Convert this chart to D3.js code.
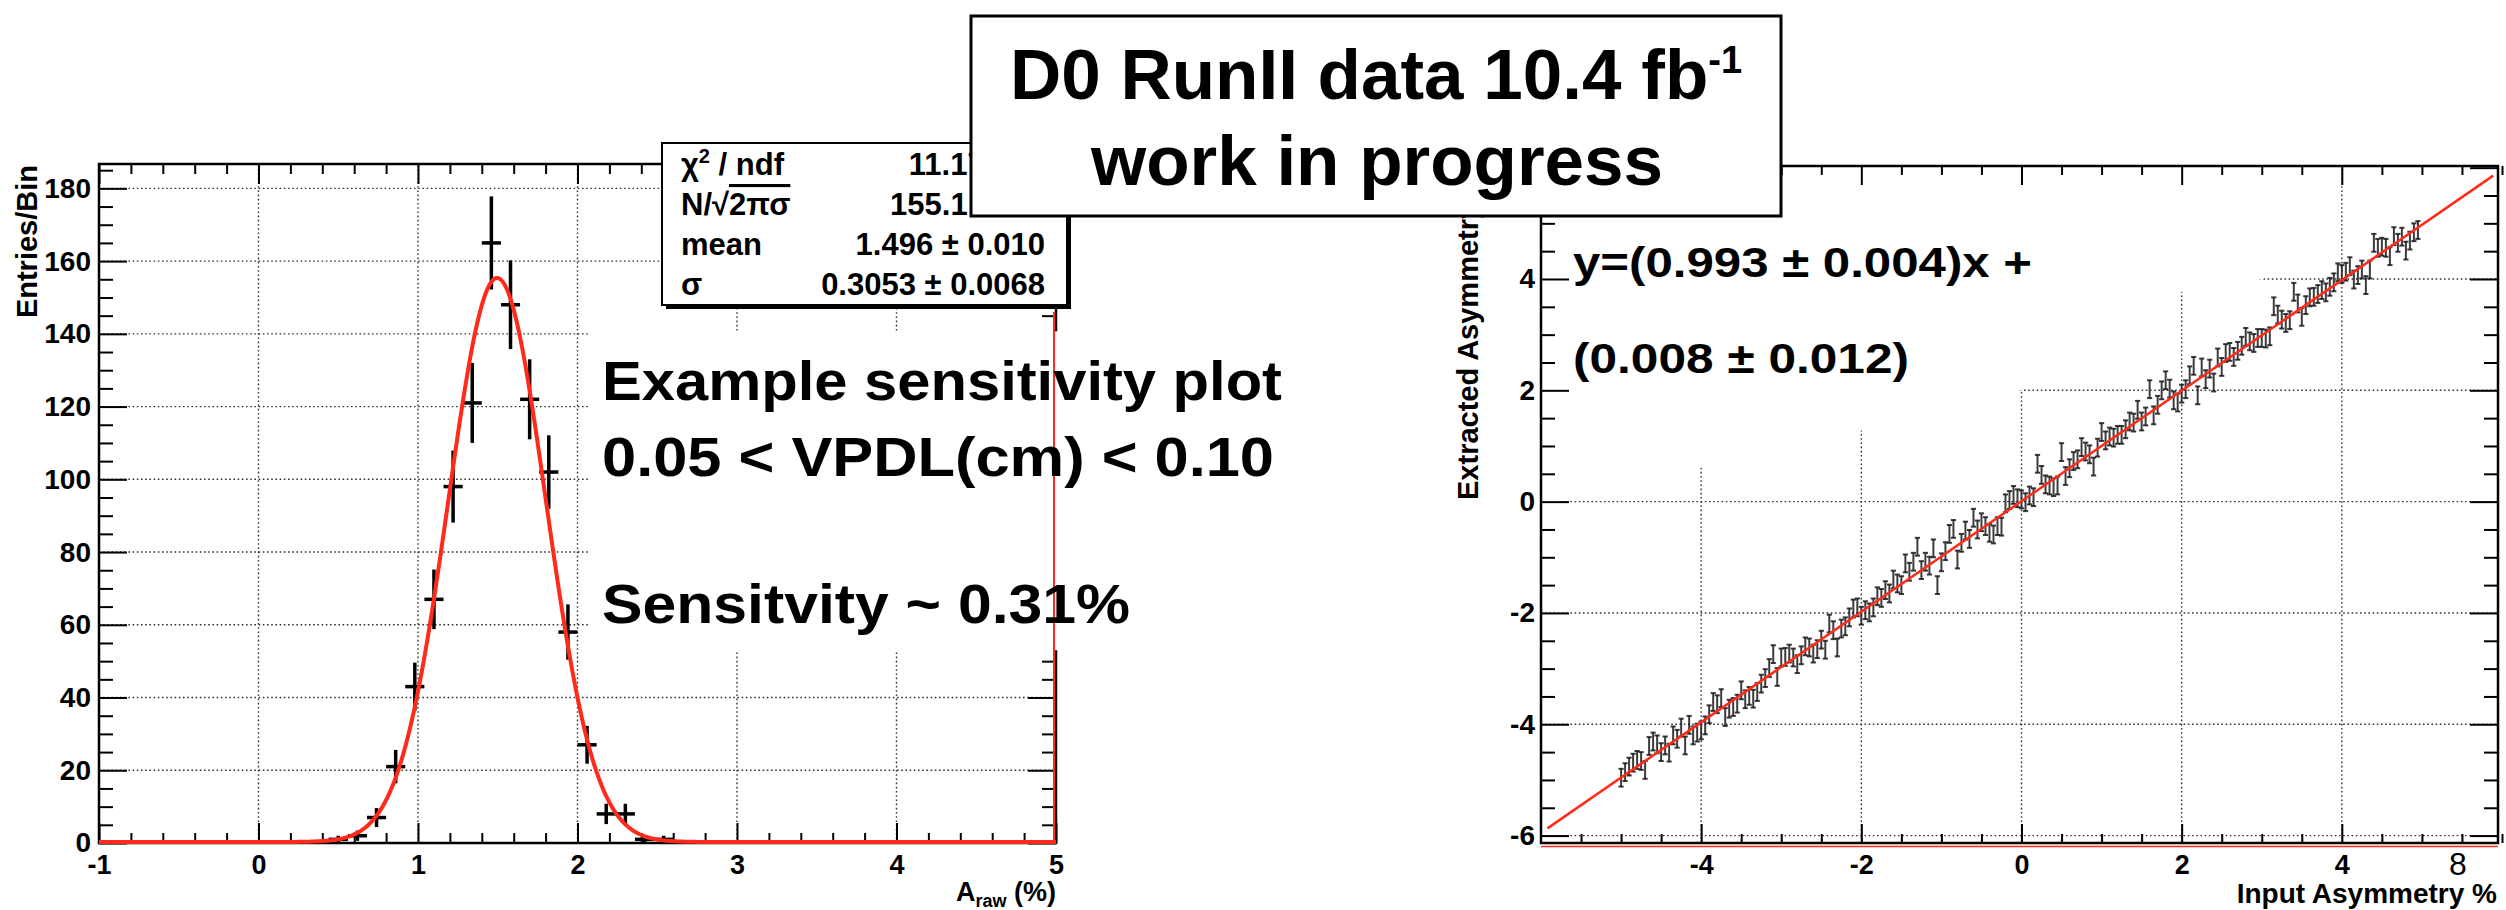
<!DOCTYPE html>
<head>
  <meta charset="utf-8">
  <script src="https://unpkg.com/d3@7/dist/d3.min.js"></script>
  <style>
    body { margin:0; background:#fff; }
    svg { font-family: "Liberation Sans", Arial, Helvetica, sans-serif; font-weight: bold; }
  </style>
</head>

<body>
  <svg width="2506" height="910"></svg>
  <script>
    // ---- left panel: raw asymmetry histogram with gaussian fit ----
    var binCenters = [0.50, 0.62, 0.74, 0.86, 0.98, 1.10, 1.22, 1.34, 1.46, 1.58, 1.70, 1.82, 1.94, 2.06, 2.18, 2.30, 2.42, 2.54];
    var binCounts  = [1, 2, 7, 21, 43, 67, 98, 121, 165, 148, 122, 102, 58, 27, 8, 8, 1, 1];
    var binErrors  = [1, 1.4, 2.6, 4.6, 6.6, 8.2, 9.9, 11, 12.8, 12.2, 11, 10.1, 7.6, 5.2, 2.8, 2.8, 1, 1];
    var binWidth = 0.12;
    var gausNorm = 155.1, gausMean = 1.496, gausSigma = 0.3053;
    var statValues = ["11.17 / 14", "155.1 \u00b1 4.1", "1.496 \u00b1 0.010", "0.3053 \u00b1 0.0068"];
    var leftXTicks = [-1, 0, 1, 2, 3, 4, 5];
    var leftYTicks = [0, 20, 40, 60, 80, 100, 120, 140, 160, 180];

    // ---- right panel: extracted vs input asymmetry ----
    var inputStart = -5, inputStep = 0.05;
    var extracted = [
      -4.96, -4.86, -4.76, -4.69, -4.64, -4.66, -4.82, -4.39, -4.31, -4.36,
      -4.50, -4.38, -4.51, -4.20, -4.26, -4.06, -4.38, -4.01, -4.20, -4.15,
      -4.11, -4.02, -3.82, -3.60, -3.64, -3.53, -3.87, -3.72, -3.69, -3.63,
      -3.39, -3.55, -3.49, -3.54, -3.42, -3.27, -3.17, -2.99, -2.74, -3.15,
      -2.80, -2.79, -2.73, -2.80, -2.92, -2.76, -2.60, -2.62, -2.73, -2.65,
      -2.48, -2.66, -2.19, -2.31, -2.62, -2.28, -2.24, -2.08, -1.92, -1.90,
      -2.05, -1.95, -1.99, -1.90, -1.70, -1.73, -1.59, -1.65, -1.40, -1.47,
      -1.50, -1.11, -1.26, -1.08, -0.81, -1.23, -1.08, -1.15, -0.84, -1.50,
      -1.09, -0.89, -0.58, -0.49, -1.04, -0.74, -0.52, -0.67, -0.29, -0.50,
      -0.37, -0.44, -0.56, -0.59, -0.44, -0.45, -0.03, 0.03, 0.12, 0.06,
      0.04, -0.01, 0.11, 0.08, 0.68, 0.48, 0.31, 0.29, 0.26, 0.29,
      0.89, 0.46, 0.60, 0.73, 0.76, 0.98, 0.90, 0.85, 0.63, 0.97,
      1.25, 1.10, 1.17, 1.15, 1.20, 1.20, 1.30, 1.44, 1.42, 1.65,
      1.44, 1.53, 2.02, 1.55, 1.74, 2.00, 2.18, 2.03, 1.82, 1.78,
      1.94, 2.02, 2.27, 2.44, 1.91, 2.41, 2.20, 2.39, 2.14, 2.59,
      2.42, 2.67, 2.69, 2.60, 2.71, 2.80, 2.96, 2.88, 2.85, 2.94,
      2.94, 2.93, 2.97, 3.51, 3.36, 3.27, 3.21, 3.26, 3.77, 3.56,
      3.32, 3.53, 3.67, 3.68, 3.73, 3.80, 3.76, 3.86, 3.94, 4.12,
      4.09, 4.13, 4.23, 3.99, 4.07, 4.17, 3.89, 4.17, 4.65, 4.56,
      4.58, 4.56, 4.41, 4.77, 4.65, 4.76, 4.51, 4.69, 4.84, 4.88
    ];
    var extractedErr = 0.16;
    var fitSlope = 0.993, fitOffset = 0.008, fitRange = [-5.92, 5.89];
    var rightXTicks = [-4, -2, 0, 2, 4];
    var rightYTicks = [-6, -4, -2, 0, 2, 4, 6];

    var red = "#ff2a1a";
    var svg = d3.select("svg");

    var x1 = d3.scaleLinear().domain([-1, 5]).range([99, 1056]);
    var y1 = d3.scaleLinear().domain([0, 186.7]).range([843, 164]);
    var x2 = d3.scaleLinear().domain([-6, 5.95]).range([1541, 2498]);
    var y2 = d3.scaleLinear().domain([-6.133, 6.03]).range([843, 166]);

    function grid(xs, ys, xv, yv) {
      var g = svg.append("g")
        .attr("stroke", "#333").attr("stroke-width", 1.4).attr("stroke-dasharray", "1.6,2.6");
      g.selectAll(".v").data(xv).enter().append("line")
        .attr("x1", xs).attr("x2", xs)
        .attr("y1", ys.range()[0]).attr("y2", ys.range()[1]);
      g.selectAll(".h").data(yv).enter().append("line")
        .attr("y1", ys).attr("y2", ys)
        .attr("x1", xs.range()[0]).attr("x2", xs.range()[1]);
    }

    function axis(gen, scale, pos, values, size, fmt, pad, fs) {
      var g = svg.append("g").attr("transform", pos)
        .call(gen(scale).tickValues(values).tickSize(-size).tickPadding(pad || 0)
          .tickFormat(fmt || function () { return ""; }));
      g.attr("font-family", null).attr("font-size", fs || 26);
      g.select(".domain").remove();
      g.selectAll(".tick line").attr("stroke-width", 2);
      return g;
    }
    function minors(lo, hi, step, majors) {
      return d3.range(lo, hi + step / 2, step).filter(function (v) {
        return !majors.some(function (m) { return Math.abs(m - v) < 1e-6; });
      });
    }
    var label = function (d) { return String(d); };

    // ================= left panel =================
    grid(x1, y1, [0, 1, 2, 3, 4], leftYTicks.slice(1));

    var lxMin = minors(-1, 5, 0.2, leftXTicks), lyMin = minors(0, 185, 5, leftYTicks);
    axis(d3.axisBottom, x1, "translate(0,843)", leftXTicks, 20, label, 11.5, 27);
    axis(d3.axisBottom, x1, "translate(0,843)", lxMin, 10);
    axis(d3.axisTop, x1, "translate(0,164)", leftXTicks, 20);
    axis(d3.axisTop, x1, "translate(0,164)", lxMin, 10);
    axis(d3.axisLeft, y1, "translate(99,0)", leftYTicks, 28, label, 8, 28);
    axis(d3.axisLeft, y1, "translate(99,0)", lyMin, 14);
    axis(d3.axisRight, y1, "translate(1056,0)", leftYTicks, 28);
    axis(d3.axisRight, y1, "translate(1056,0)", lyMin, 14);

    svg.append("rect").attr("x", 99).attr("y", 164).attr("width", 957).attr("height", 679)
      .attr("fill", "none").attr("stroke", "#000").attr("stroke-width", 2.5);

    // white pane behind the annotation text
    svg.append("rect")
      .attr("x", x1(2.07)).attr("y", y1(140.7))
      .attr("width", 1060 - x1(2.07)).attr("height", y1(53) - y1(140.7))
      .attr("fill", "#fff");
    svg.append("line").attr("x1", 1054).attr("x2", 1054).attr("y1", y1(146)).attr("y2", 843)
      .attr("stroke", red).attr("stroke-width", 2);

    var hist = svg.append("g").attr("stroke", "#000").attr("stroke-width", 3.5);
    binCenters.forEach(function (c, i) {
      hist.append("line").attr("x1", x1(c)).attr("x2", x1(c))
        .attr("y1", y1(binCounts[i] - binErrors[i])).attr("y2", y1(binCounts[i] + binErrors[i]));
      hist.append("line").attr("x1", x1(c - binWidth / 2)).attr("x2", x1(c + binWidth / 2))
        .attr("y1", y1(binCounts[i])).attr("y2", y1(binCounts[i]));
    });

    var gaus = function (x) {
      return gausNorm * Math.exp(-0.5 * Math.pow((x - gausMean) / gausSigma, 2));
    };
    svg.append("path")
      .datum(d3.range(-1, 5.0001, 0.01))
      .attr("fill", "none").attr("stroke", red).attr("stroke-width", 4)
      .attr("d", d3.line().x(function (d) { return x1(d); }).y(function (d) { return y1(gaus(d)) - 1; }));

    svg.append("text").attr("x", 37).attr("y", 165).attr("text-anchor", "end")
      .attr("transform", "rotate(-90,37,165)").attr("font-size", 29).text("Entries/Bin");
    var xt = svg.append("text").attr("x", 1056).attr("y", 901).attr("text-anchor", "end").attr("font-size", 27);
    xt.append("tspan").text("A");
    xt.append("tspan").attr("font-size", 18).attr("dy", 6).text("raw");
    xt.append("tspan").attr("dy", -6).text(" (%)");

    var notes = [["Example sensitivity plot", 400, 680], ["0.05 < VPDL(cm) < 0.10", 476, 672], ["Sensitvity ~ 0.31%", 623, 528]];
    notes.forEach(function (n) {
      svg.append("text").attr("x", 602).attr("y", n[1]).attr("font-size", 55)
        .attr("textLength", n[2]).attr("lengthAdjust", "spacingAndGlyphs").text(n[0]);
    });

    // stats box
    svg.append("rect").attr("x", 666).attr("y", 147).attr("width", 405).attr("height", 162).attr("fill", "#000");
    svg.append("rect").attr("x", 662).attr("y", 143).attr("width", 405).attr("height", 162)
      .attr("fill", "#fff").attr("stroke", "#000").attr("stroke-width", 2);
    var st = svg.append("g").attr("font-size", 31);
    var rowY = function (i) { return 175 + i * 40; };
    var l0 = st.append("text").attr("x", 681).attr("y", rowY(0));
    l0.append("tspan").text("\u03c7");
    l0.append("tspan").attr("font-size", 20).attr("dy", -12).text("2");
    l0.append("tspan").attr("dy", 12).text(" / ndf");
    var l1 = st.append("text").attr("x", 681).attr("y", rowY(1));
    l1.append("tspan").text("N/\u221a");
    l1.append("tspan").style("text-decoration", "overline").text("2\u03c0\u03c3");
    st.append("text").attr("x", 681).attr("y", rowY(2)).text("mean");
    st.append("text").attr("x", 681).attr("y", rowY(3)).text("\u03c3");
    statValues.forEach(function (v, i) {
      st.append("text").attr("x", 1045).attr("y", rowY(i)).attr("text-anchor", "end").text(v);
    });

    // ================= right panel =================
    grid(x2, y2, rightXTicks, rightYTicks.slice(0, 6));

    // white area of the fit-result pane that hides part of the grid
    var gridMask = [[-6, -0.1], [-5.74, 0], [-4, 0.61], [-2, 1.28], [0, 2.0], [2, 3.77], [3.02, 4.0], [3.6, 6.03], [-6, 6.03]];
    svg.append("polygon")
      .attr("points", gridMask.map(function (p) { return x2(p[0]) + "," + y2(p[1]); }).join(" "))
      .attr("fill", "#fff");

    var rxMaj = [-6, -4, -2, 0, 2, 4];
    var rxMin = minors(-6, 5.9, 0.5, rxMaj), ryMin = minors(-6, 6, 0.5, rightYTicks);
    axis(d3.axisBottom, x2, "translate(0,843)", rightXTicks, 19, label, 11.5, 27);
    axis(d3.axisBottom, x2, "translate(0,843)", rxMin, 9);
    axis(d3.axisTop, x2, "translate(0,166)", rxMaj, 19);
    axis(d3.axisTop, x2, "translate(0,166)", rxMin, 9);
    axis(d3.axisLeft, y2, "translate(1541,0)", rightYTicks, 28, label, 6, 28);
    axis(d3.axisLeft, y2, "translate(1541,0)", ryMin, 14);
    axis(d3.axisRight, y2, "translate(2498,0)", rightYTicks, 28);
    axis(d3.axisRight, y2, "translate(2498,0)", ryMin, 14);

    svg.append("rect").attr("x", 1541).attr("y", 166).attr("width", 957).attr("height", 677)
      .attr("fill", "none").attr("stroke", "#000").attr("stroke-width", 2.5);
    svg.append("line").attr("x1", 1541).attr("x2", 2498).attr("y1", 846.5).attr("y2", 846.5)
      .attr("stroke", red).attr("stroke-width", 1.5);

    var pts = svg.append("g").attr("stroke", "#1a1a1a").attr("stroke-width", 2).attr("stroke-opacity", 0.85);
    extracted.forEach(function (v, i) {
      var xv = x2(inputStart + i * inputStep);
      var top = y2(v + extractedErr), bot = y2(v - extractedErr);
      pts.append("line").attr("x1", xv).attr("x2", xv).attr("y1", top).attr("y2", bot);
      pts.append("line").attr("x1", xv - 2.6).attr("x2", xv + 2.6).attr("y1", top).attr("y2", top);
      pts.append("line").attr("x1", xv - 2.6).attr("x2", xv + 2.6).attr("y1", bot).attr("y2", bot);
    });

    svg.append("line")
      .attr("x1", x2(fitRange[0])).attr("y1", y2(fitSlope * fitRange[0] + fitOffset))
      .attr("x2", x2(fitRange[1])).attr("y2", y2(fitSlope * fitRange[1] + fitOffset))
      .attr("stroke", red).attr("stroke-width", 2.5);

    svg.append("text").attr("x", 1478).attr("y", 500)
      .attr("transform", "rotate(-90,1478,500)").attr("font-size", 29).text("Extracted Asymmetry");
    svg.append("text").attr("x", 2497).attr("y", 903).attr("text-anchor", "end").attr("font-size", 28)
      .text("Input Asymmetry %");

    svg.append("text").attr("x", 1573).attr("y", 277).attr("font-size", 42)
      .attr("textLength", 459).attr("lengthAdjust", "spacingAndGlyphs").text("y=(0.993 \u00b1 0.004)x +");
    svg.append("text").attr("x", 1573).attr("y", 373).attr("font-size", 42)
      .attr("textLength", 336).attr("lengthAdjust", "spacingAndGlyphs").text("(0.008 \u00b1 0.012)");

    svg.append("text").attr("x", 2458).attr("y", 875).attr("text-anchor", "middle")
      .attr("font-size", 32).attr("font-weight", "normal").text("8");

    // ================= title box =================
    svg.append("rect").attr("x", 971).attr("y", 16).attr("width", 810).attr("height", 200)
      .attr("fill", "#fff").attr("stroke", "#000").attr("stroke-width", 3);
    var t1 = svg.append("text").attr("x", 1376).attr("y", 99).attr("text-anchor", "middle").attr("font-size", 71);
    t1.append("tspan").text("D0 RunII data 10.4 fb");
    t1.append("tspan").attr("font-size", 38).attr("dy", -26).text("-1");
    svg.append("text").attr("x", 1377).attr("y", 185).attr("text-anchor", "middle").attr("font-size", 71)
      .text("work in progress");
  </script>
</body>
